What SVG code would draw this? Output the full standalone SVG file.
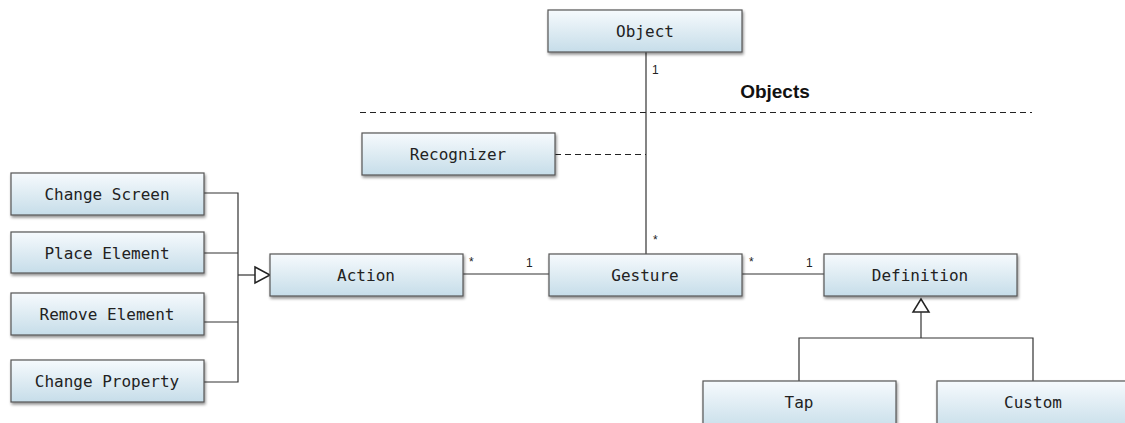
<svg xmlns="http://www.w3.org/2000/svg" width="1125" height="423" viewBox="0 0 1125 423">
<defs>
<linearGradient id="g" x1="0" y1="0" x2="0" y2="1">
<stop offset="0" stop-color="#f6fafd"/>
<stop offset="1" stop-color="#c6dde9"/>
</linearGradient>
<filter id="sh" x="-10%" y="-20%" width="130%" height="160%">
<feGaussianBlur in="SourceAlpha" stdDeviation="1.5"/>
<feOffset dx="1" dy="2" result="o"/>
<feComponentTransfer><feFuncA type="linear" slope="0.45"/></feComponentTransfer>
<feMerge><feMergeNode/><feMergeNode in="SourceGraphic"/></feMerge>
</filter>
</defs>
<style>
.box{fill:url(#g);stroke:#555;stroke-width:1.2;filter:url(#sh)}
.t{font-family:"DejaVu Sans Mono","Liberation Mono",monospace;font-size:16px;fill:#222;text-anchor:middle;dominant-baseline:central}
.ln{stroke:#333;stroke-width:1.2;fill:none}
.dash{stroke:#222;stroke-width:1;fill:none;stroke-dasharray:6,4}
.m{font-family:"Liberation Sans",Arial,sans-serif;font-size:12px;fill:#222}
.tri{fill:#fff;stroke:#222;stroke-width:1.5}
</style>
<rect width="1125" height="423" fill="#fff"/>
<text x="775" y="98" font-family="Liberation Sans,Arial,sans-serif" font-size="19" font-weight="bold" text-anchor="middle" fill="#111">Objects</text>
<g id="connectors">
<line class="dash" x1="360" y1="112.5" x2="1032" y2="112.5"/>
<line class="ln" x1="646" y1="52" x2="646" y2="254"/>
<line class="dash" x1="555" y1="154.5" x2="646" y2="154.5"/>
<polyline class="ln" points="204,193 238,193 238,382 204,382"/>
<line class="ln" x1="204" y1="253" x2="238" y2="253"/>
<line class="ln" x1="204" y1="322" x2="238" y2="322"/>
<line class="ln" x1="238" y1="275" x2="255" y2="275"/>
<polygon class="tri" points="255,267 270,275 255,283"/>
<line class="ln" x1="463" y1="274" x2="549" y2="274"/>
<line class="ln" x1="742" y1="274" x2="824" y2="274"/>
<polygon class="tri" points="921,299 913,312 929,312"/>
<line class="ln" x1="921" y1="312" x2="921" y2="338"/>
<polyline class="ln" points="799,381 799,338 1033,338 1033,381"/>
<text class="m" x="652" y="74">1</text>
<text class="m" x="653" y="244">*</text>
<text class="m" x="469" y="266">*</text>
<text class="m" x="526" y="267">1</text>
<text class="m" x="749" y="266">*</text>
<text class="m" x="806" y="267">1</text>
</g>
<g id="object"><rect class="box" x="548" y="10" width="194" height="42"/><text class="t" x="645" y="31">Object</text></g>
<g id="recognizer"><rect class="box" x="362" y="133" width="193" height="42"/><text class="t" x="458" y="154">Recognizer</text></g>
<g id="change-screen"><rect class="box" x="11" y="173" width="193" height="42"/><text class="t" x="107" y="194">Change Screen</text></g>
<g id="place-element"><rect class="box" x="11" y="232" width="193" height="41"/><text class="t" x="107" y="253">Place Element</text></g>
<g id="remove-element"><rect class="box" x="11" y="293" width="193" height="42"/><text class="t" x="107" y="314">Remove Element</text></g>
<g id="change-property"><rect class="box" x="11" y="360" width="193" height="42"/><text class="t" x="107" y="381">Change Property</text></g>
<g id="action"><rect class="box" x="270" y="254" width="193" height="42"/><text class="t" x="366" y="275">Action</text></g>
<g id="gesture"><rect class="box" x="549" y="254" width="193" height="42"/><text class="t" x="645" y="275">Gesture</text></g>
<g id="definition"><rect class="box" x="824" y="254" width="193" height="42"/><text class="t" x="920" y="275">Definition</text></g>
<g id="tap"><rect class="box" x="703" y="381" width="193" height="50"/><text class="t" x="799" y="402">Tap</text></g>
<g id="custom"><rect class="box" x="937" y="381" width="194" height="50"/><text class="t" x="1033" y="402">Custom</text></g>
</svg>
